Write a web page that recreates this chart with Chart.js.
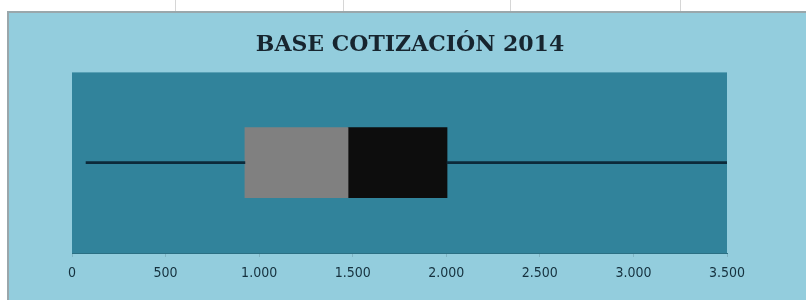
<!DOCTYPE html>
<html>
<head>
<meta charset="utf-8">
<script src="https://cdn.jsdelivr.net/npm/chart.js@4/dist/chart.umd.min.js"></script>
<style>
  html, body { margin: 0; padding: 0; background: #ffffff; width: 806px; height: 300px; overflow: hidden; position: relative; }
  .grid { position: absolute; top: 0; width: 1px; height: 12px; background: #d6d6d6; }
  #frame { position: absolute; left: 7px; top: 11px; width: 799px; height: 289px; border-left: 2px solid #9aa7ab; border-top: 2px solid #9aa7ab; box-sizing: border-box; background: #93cddd; }
  #c { position: absolute; left: 9px; top: 13px; }
</style>
</head>
<body>
<div class="grid" style="left:175px"></div>
<div class="grid" style="left:343px"></div>
<div class="grid" style="left:510px"></div>
<div class="grid" style="left:680px"></div>
<div id="frame"></div>
<canvas id="c" width="797" height="287" style="width:797px;height:287px"></canvas>
<script>
const categories = ['BASE COTIZACIÓN 2014'];
const whiskerLow = [[75, 924]];
const boxLower = [[924, 1475]];
const boxUpper = [[1475, 2004]];
const whiskerHigh = [[2004, 3500]];
const tickLabels = ['0', '500', '1.000', '1.500', '2.000', '2.500', '3.000', '3.500'];
const titleText = 'BASE COTIZACIÓN 2014';

const plotBg = {
  id: 'plotBg',
  beforeDatasetsDraw(chart) {
    const a = chart.chartArea, ctx = chart.ctx;
    ctx.save();
    ctx.fillStyle = '#31839b';
    ctx.fillRect(a.left, a.top, a.right - a.left, a.bottom - a.top);
    ctx.restore();
  }
};

new Chart(document.getElementById('c'), {
  type: 'bar',
  data: {
    labels: categories,
    datasets: [
      { data: whiskerLow, backgroundColor: '#0c2a3a', barThickness: 2, grouped: false },
      { data: whiskerHigh, backgroundColor: '#0c2a3a', barThickness: 2, grouped: false },
      { data: boxLower, backgroundColor: '#808080', barThickness: 70, grouped: false },
      { data: boxUpper, backgroundColor: '#0d0d0d', barThickness: 70, grouped: false }
    ]
  },
  options: {
    indexAxis: 'y',
    responsive: false,
    animation: false,
    layout: { padding: { left: 63, right: 58, top: 0, bottom: 0 } },
    plugins: {
      legend: { display: false },
      tooltip: { enabled: false },
      title: {
        display: true,
        text: titleText,
        color: '#17252f',
        font: { family: 'DejaVu Serif', size: 22, weight: 'bold', lineHeight: 1.2 },
        padding: { top: 19, bottom: 14 }
      }
    },
    scales: {
      y: {
        position: 'right',
        display: true,
        grid: { display: false },
        border: { display: false },
        ticks: { display: false },
        afterFit(scale) { scale.width = 21; }
      },
      x: {
        min: 0, max: 3500,
        grid: { drawOnChartArea: false, color: '#7fb3c2', tickLength: 4, tickColor: '#7fb3c2' },
        border: { color: '#2a6f83', width: 1 },
        ticks: {
          stepSize: 500,
          autoSkip: false,
          maxRotation: 0,
          padding: 8,
          color: '#15303d',
          font: { family: 'DejaVu Sans Condensed', size: 14 },
          callback: (v, i) => tickLabels[i]
        },
        afterFit(scale) { scale.height = 47; }
      }
    }
  },
  plugins: [plotBg]
});
</script>
</body>
</html>
